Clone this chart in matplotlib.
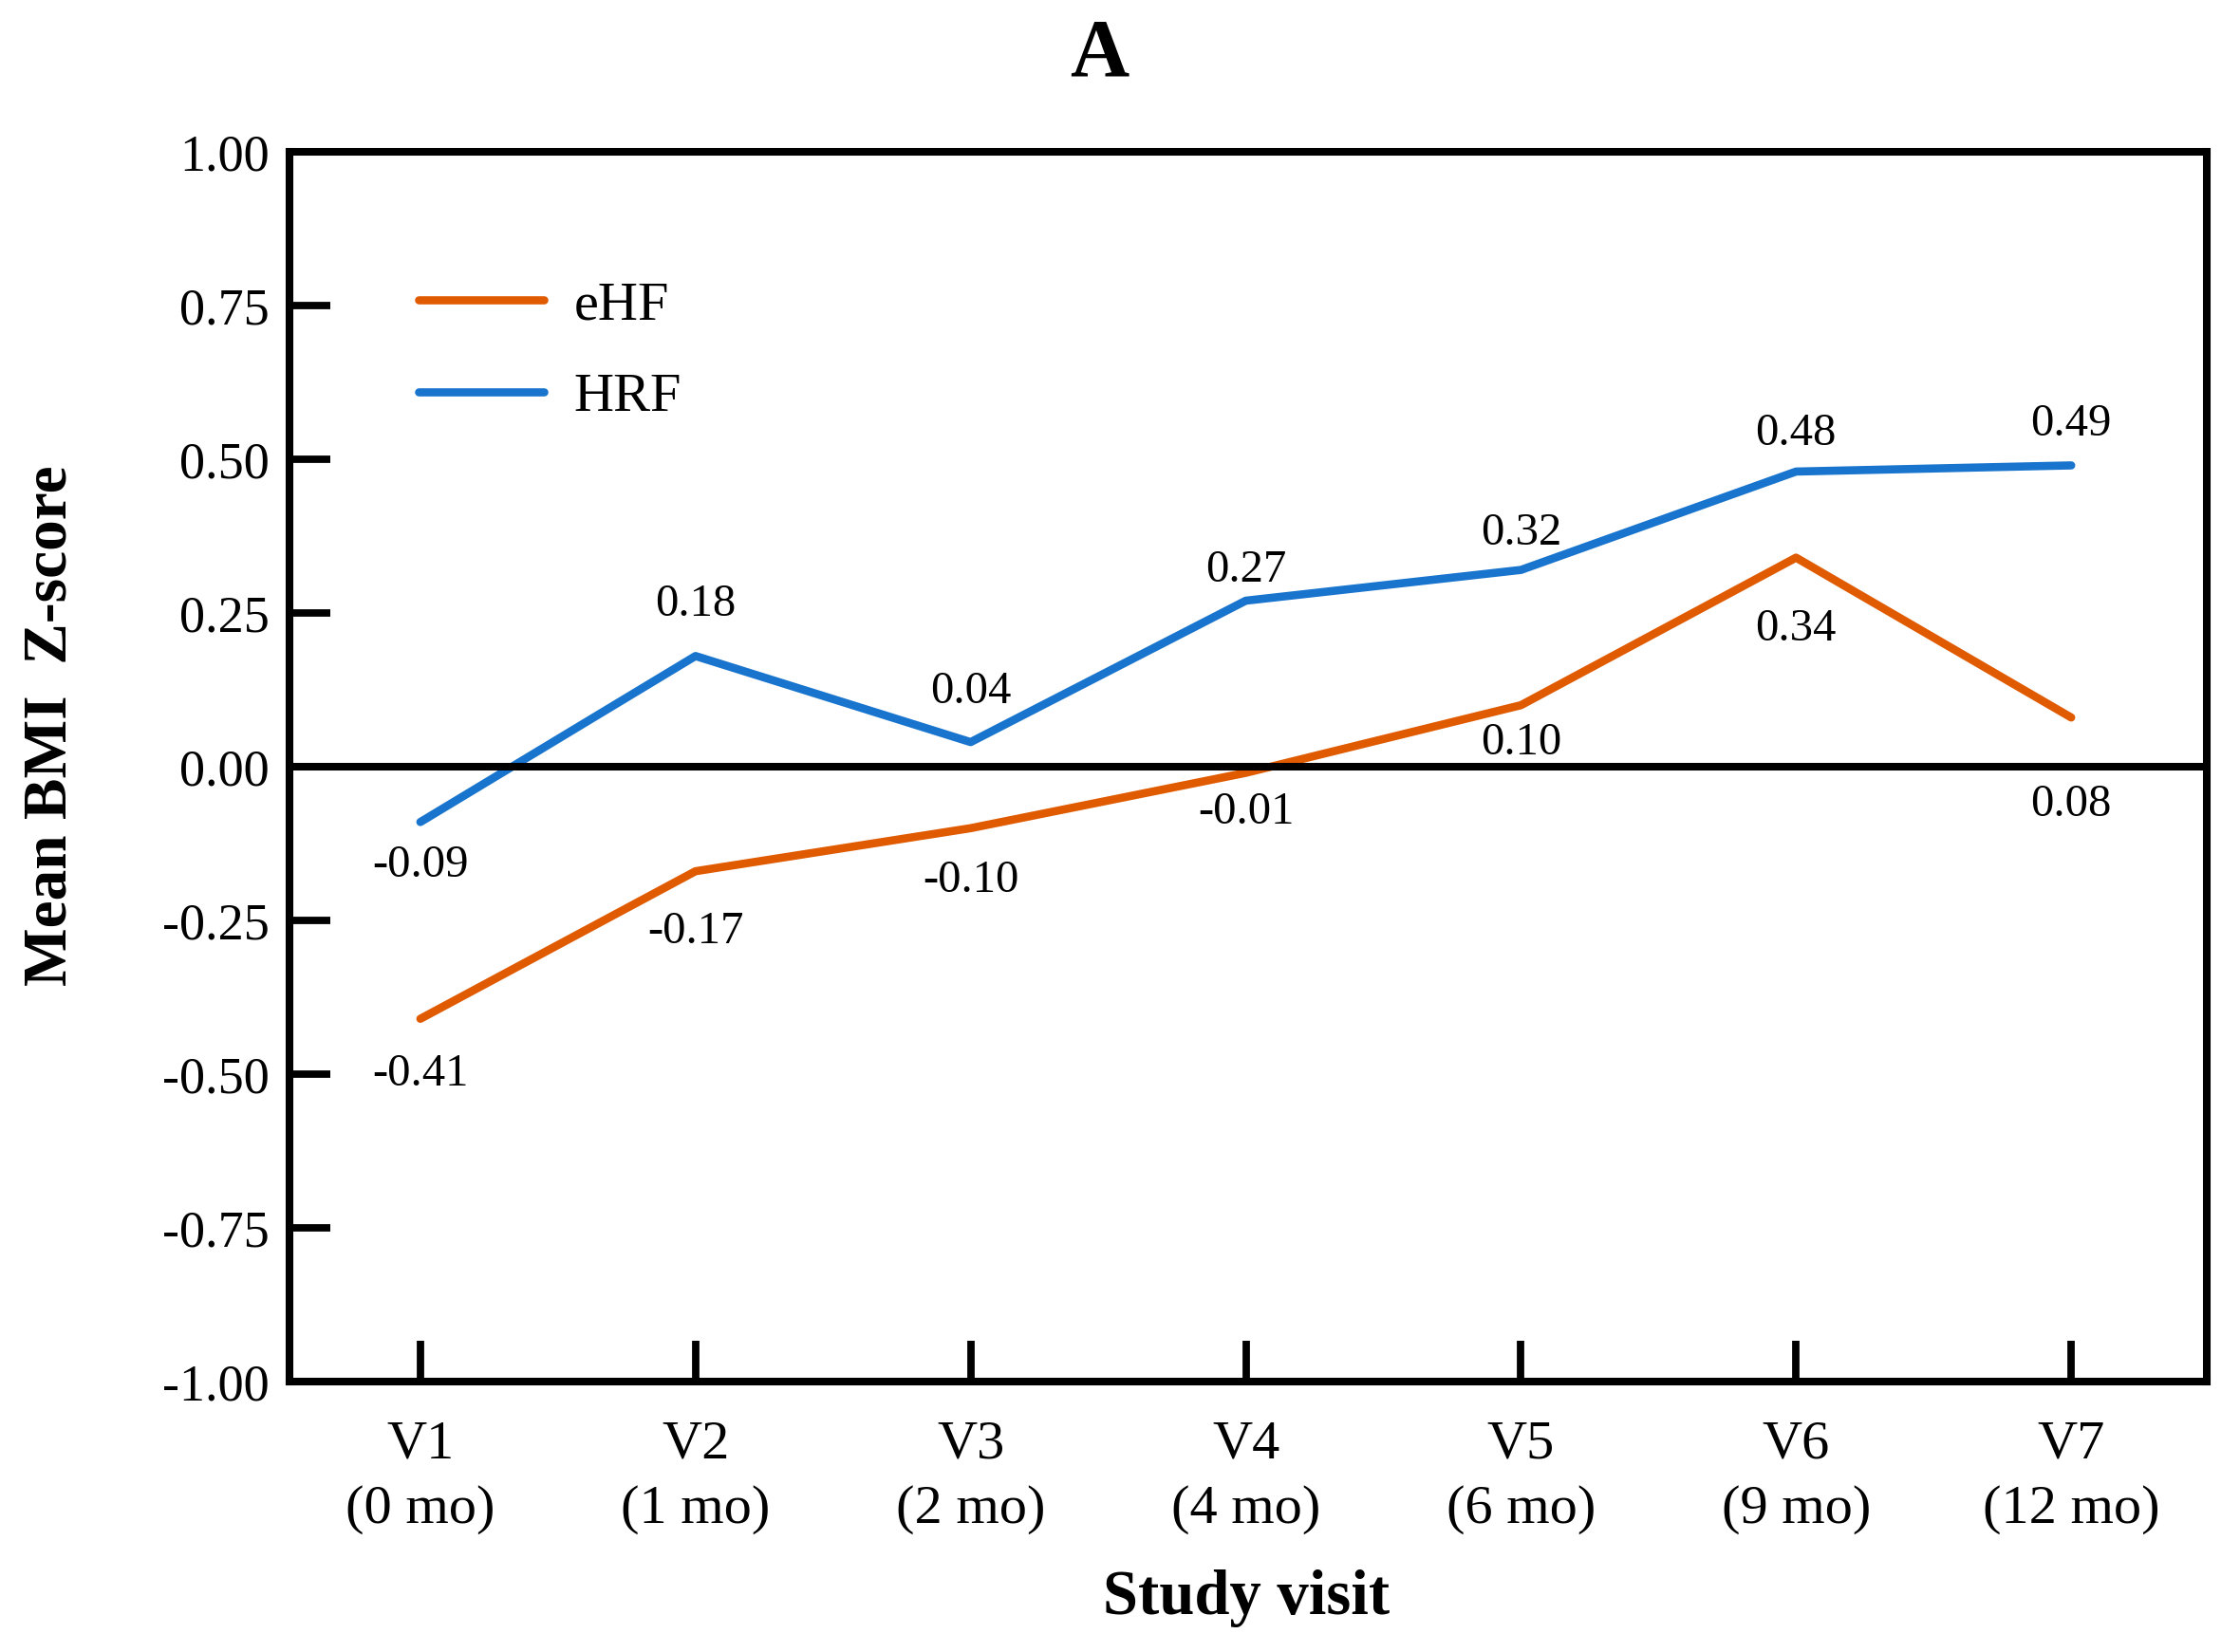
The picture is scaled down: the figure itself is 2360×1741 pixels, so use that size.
import numpy as np
import matplotlib
matplotlib.use('Agg')
import matplotlib.pyplot as plt

plt.rcParams['font.family'] = ['Liberation Serif', 'DejaVu Serif']

# --- Dados ---
visitas = ['V1\n(0 mo)', 'V2\n(1 mo)', 'V3\n(2 mo)', 'V4\n(4 mo)',
           'V5\n(6 mo)', 'V6\n(9 mo)', 'V7\n(12 mo)']
ehf = [-0.41, -0.17, -0.10, -0.01, 0.10, 0.34, 0.08]
hrf = [-0.09, 0.18, 0.04, 0.27, 0.32, 0.48, 0.49]
yticks = [1.00, 0.75, 0.50, 0.25, 0.00, -0.25, -0.50, -0.75, -1.00]

# deslocamento vertical dos rótulos (pontos)
off_ehf = [-21, -23, -20, -15, -14.5, -27, -33]
off_hrf = [-16.5, 19.5, 19, 11.5, 14, 14.5, 15.5]

cor_ehf = '#e05a00'
cor_hrf = '#1874cd'

fig = plt.figure(figsize=(11.8, 8.705), dpi=200)
ax = fig.add_axes([0.1292, 0.1637, 0.8560, 0.7444])

x = np.arange(len(visitas))
ax.plot(x, ehf, color=cor_ehf, lw=3.1, label='eHF', solid_capstyle='round')
ax.plot(x, hrf, color=cor_hrf, lw=3.1, label='HRF', solid_capstyle='round')
ax.axhline(0, color='black', lw=2.9)

for i in range(len(x)):
    ax.annotate(f'{ehf[i]:.2f}', (x[i], ehf[i]), xytext=(0, off_ehf[i]),
                textcoords='offset points', ha='center', va='center', fontsize=17.5)
    ax.annotate(f'{hrf[i]:.2f}', (x[i], hrf[i]), xytext=(0, off_hrf[i]),
                textcoords='offset points', ha='center', va='center', fontsize=17.5)

ax.set_xlim(-0.476, 6.493)
ax.set_ylim(-1, 1)
ax.set_yticks(yticks)
ax.set_yticklabels([f'{v:.2f}' for v in yticks], fontsize=19.5)
ax.set_xticks(x)
ax.set_xticklabels(visitas, linespacing=1.42, fontsize=21)

for s in ax.spines.values():
    s.set_linewidth(2.9)
ax.tick_params(axis='both', direction='in', length=15.5, width=2.8)
ax.tick_params(axis='y', pad=7.5)
ax.tick_params(axis='x', pad=14.5)

fig.text(1313 / 2360, 1 - 1701 / 1741, 'Study visit', ha='center', va='baseline',
         fontsize=24, fontweight='bold')
fig.text(54 / 2360, 1 - 765 / 1741, 'Mean BMI  Z-score', ha='center', va='center',
         rotation=90, fontsize=23.5, fontweight='bold')

leg = ax.legend(loc='upper left', bbox_to_anchor=(0.0675, 0.8950), frameon=False,
                fontsize=21, handlelength=2.25, handletextpad=0.55, labelspacing=0.75,
                borderpad=0, borderaxespad=0)

fig.text(1158 / 2360, 1 - 80 / 1741, 'A', ha='center', va='baseline',
         fontsize=31, fontweight='bold')

fig.savefig('out.png', dpi=200)
